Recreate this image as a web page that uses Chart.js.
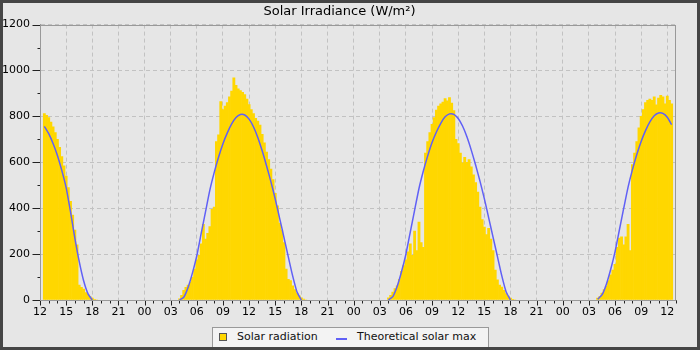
<!DOCTYPE html>
<html>
<head>
<meta charset="utf-8">
<script src="https://cdn.jsdelivr.net/npm/chart.js@4.4.1/dist/chart.umd.min.js"></script>
<style>
  body { margin: 0; background: #fff; }
  #frame {
    position: relative; width: 700px; height: 350px; box-sizing: border-box;
    border: 3px solid #454545; background: #e6e6e6; overflow: hidden;
    font-family: 'DejaVu Sans', sans-serif; font-size: 11px; color: #111;
  }
  #myChart { position: absolute; left: 0; top: 0; }
  #legend {
    position: absolute; left: 209px; top: 324px; width: 277px; height: 22px;
    box-sizing: border-box; border: 1px solid #999; background: #f3f3f3;
  }
  #legend .box { position: absolute; left: 6px; top: 5px; width: 8px; height: 8px; box-sizing: border-box; border: 1px solid #555; background: #ffd700; }
  #legend .dash { position: absolute; left: 123px; top: 10px; width: 11px; height: 2px; background: #6060f6; }
  #legend .txt { position: absolute; top: 0; line-height: 18px; white-space: nowrap; }
</style>
</head>
<body>
<div id="frame">
  <canvas id="myChart" width="694" height="344"></canvas>
  <div id="legend">
    <span class="box"></span><span class="txt" style="left:24px">Solar radiation</span>
    <span class="dash"></span><span class="txt" style="left:144px">Theoretical solar max</span>
  </div>
</div>
<script>
// hours are counted from the first 12:00 on the axis
const hourLabels = ['12', '15', '18', '21', '00', '03', '06', '09'];

// measured radiation, one value every 15 minutes
const day1Start = 0.5;   // 12:30
const day1Radiation = [812, 805, 795, 775, 755, 730, 700, 665, 625, 585, 540, 490, 430, 370, 305, 240,
    65, 55, 48, 32, 25, 15, 8, 3, 0];
const day2Start = 16;    // 04:00
const day2Radiation = [5, 20, 42, 55, 65, 78, 100, 135, 175, 195, 245, 330, 265, 290, 320, 395,
    405, 690, 720, 865, 830, 845, 860, 885, 910, 968, 935, 920, 912, 905, 895, 875,
    852, 830, 812, 792, 780, 762, 722, 685, 645, 612, 570, 525, 465, 410, 335, 305,
    250, 135, 90, 85, 62, 45, 30, 18, 10, 4, 0];
const day3Start = 40;
const day3Radiation = [10, 20, 35, 50, 62, 90, 125, 150, 175, 210, 245, 195, 300, 215, 340, 250,
    230, 640, 690, 730, 765, 795, 828, 845, 855, 862, 878, 868, 882, 858, 825, 700,
    682, 640, 598, 622, 600, 612, 580, 545, 512, 470, 405, 350, 318, 285, 312, 265,
    215, 130, 88, 65, 56, 42, 28, 17, 8, 3, 0];
const day4Start = 64;
const day4Radiation = [8, 15, 30, 45, 60, 85, 110, 130, 155, 230, 270, 275, 240, 275, 330, 215,
    590, 640, 690, 750, 800, 830, 860, 870, 875, 870, 885, 850, 880, 892, 885, 855,
    888, 870, 855];

// theoretical clear sky maximum, one value every 30 minutes
const day1Theoretical = [757, 725, 682, 630, 565, 490, 385, 270, 168, 85, 28, 0];
const day2Theoretical = [0, 12, 55, 118, 193, 290, 385, 480, 556, 623, 681, 728, 767, 795, 808,
    806, 788, 755, 708, 650, 585, 516, 440, 357, 273, 188, 105, 35, 0];
const day3Theoretical = [0, 15, 60, 124, 200, 296, 392, 486, 562, 628, 686, 732, 770, 798, 811,
    809, 791, 758, 711, 653, 588, 518, 442, 358, 274, 190, 106, 36, 0];
const day4Theoretical = [3, 22, 68, 133, 210, 305, 400, 492, 568, 634, 691, 738, 776, 803, 815,
    813, 796, 764];

function toPoints(start, step, values) {
    return values.map((v, i) => ({x: start + i * step, y: v}));
}

const radiationPoints = [].concat(
    toPoints(day1Start, 0.25, day1Radiation),
    toPoints(day2Start, 0.25, day2Radiation),
    toPoints(day3Start, 0.25, day3Radiation),
    toPoints(day4Start, 0.25, day4Radiation)
);

// null between days so the line breaks overnight
const theoreticalPoints = [].concat(
    toPoints(day1Start, 0.5, day1Theoretical), [{x: 10, y: null}],
    toPoints(day2Start, 0.5, day2Theoretical), [{x: 34, y: null}],
    toPoints(day3Start, 0.5, day3Theoretical), [{x: 58, y: null}],
    toPoints(day4Start, 0.5, day4Theoretical)
);

// plot frame plus long/short tick marks
const frameTicks = {
    id: 'frameTicks',
    afterDraw(chart) {
        const {ctx, chartArea: a, scales: {x, y}} = chart;
        const L = Math.round(a.left) + 0.5, R = Math.round(a.right) - 0.5;
        const T = Math.round(a.top) + 0.5, B = Math.round(a.bottom) + 0.5;
        ctx.save();
        ctx.lineWidth = 1;
        ctx.strokeStyle = '#222';
        ctx.beginPath();
        x.ticks.forEach(t => {
            const px = Math.round(x.getPixelForValue(t.value)) + 0.5;
            ctx.moveTo(px, B);
            ctx.lineTo(px, B + (t.value % 3 === 0 ? 5 : 3));
        });
        y.ticks.forEach(t => {
            const py = Math.round(y.getPixelForValue(t.value)) + 0.5;
            ctx.moveTo(L, py);
            ctx.lineTo(L - (t.value % 200 === 0 ? 8 : 3), py);
        });
        ctx.stroke();
        ctx.strokeStyle = '#999';
        ctx.strokeRect(L, T, R - L, B - T);
        ctx.restore();
    }
};

Chart.defaults.font.family = "'DejaVu Sans', sans-serif";
Chart.defaults.font.size = 11;
Chart.defaults.color = '#111';

const ctx = document.getElementById('myChart').getContext('2d');
const myChart = new Chart(ctx, {
    type: 'bar',
    data: {
        datasets: [{
            type: 'line',
            label: 'Theoretical solar max',
            data: theoreticalPoints,
            borderColor: '#6060f6',
            borderWidth: 1.5,
            pointRadius: 0,
            tension: 0.2,
            spanGaps: false,
            order: 0
        }, {
            label: 'Solar radiation',
            data: radiationPoints,
            backgroundColor: '#ffd700',
            borderWidth: 0,
            barPercentage: 1,
            categoryPercentage: 1,
            order: 1
        }]
    },
    options: {
        responsive: false,
        animation: false,
        layout: { padding: { left: 0, right: 21, top: 0, bottom: 26 } },
        plugins: {
            legend: { display: false },
            tooltip: { enabled: false },
            title: {
                display: true,
                text: 'Solar Irradiance (W/m²)',
                color: '#000',
                font: { size: 13, weight: 'normal' },
                padding: { top: 1, bottom: 5 }
            }
        },
        scales: {
            x: {
                type: 'linear',
                min: 0,
                max: 73,
                offset: false,
                grid: {
                    offset: false,
                    drawTicks: false,
                    color: c => (c.tick && c.tick.value % 3 === 0) ? '#c2c2c2' : 'rgba(0,0,0,0)',
                    borderDash: [4, 3]
                },
                border: { color: '#999', dash: [4, 3] },
                ticks: {
                    stepSize: 1,
                    autoSkip: false,
                    maxRotation: 0,
                    padding: 6,
                    color: '#000',
                    callback: v => v % 3 === 0 ? hourLabels[(v / 3) % 8] : ''
                },
                afterFit: s => { s.height = 21; }
            },
            y: {
                min: 0,
                max: 1200,
                grid: {
                    drawTicks: false,
                    color: c => (c.tick && c.tick.value % 200 === 0) ? '#c2c2c2' : 'rgba(0,0,0,0)',
                    borderDash: [4, 3]
                },
                border: { color: '#999', dash: [4, 3] },
                ticks: {
                    stepSize: 100,
                    padding: 10,
                    color: '#000',
                    callback: v => v % 200 === 0 ? v : ''
                },
                afterFit: s => { s.width = 37; }
            }
        }
    },
    plugins: [frameTicks]
});
</script>
</body>
</html>
